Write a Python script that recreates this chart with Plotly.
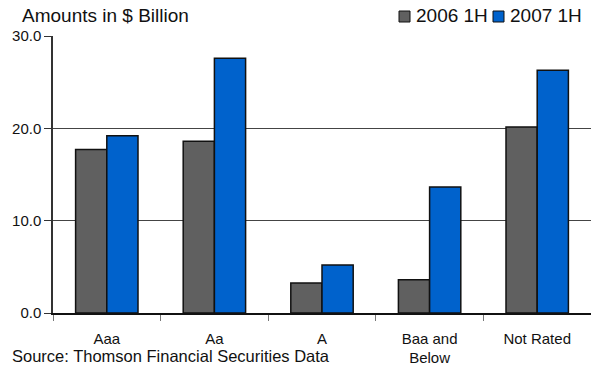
import plotly.graph_objects as go

categories = ["Aaa", "Aa", "A", "Baa and<br>Below", "Not Rated"]
values_2006 = [17.7, 18.6, 3.25, 3.6, 20.15]
values_2007 = [19.2, 27.6, 5.2, 13.65, 26.3]
series_names = ["2006 1H", "2007 1H"]
series_colors = ["#606060", "#0062CC"]
y_ticks = [0, 10, 20, 30]
y_tick_text = ["0.0", "10.0", "20.0", "30.0"]

FONT = "Liberation Sans, Arial, sans-serif"
W, H = 591, 371
L, R, T, B = 53, 0, 36, 58
PW, PH = W - L - R, H - T - B


def px(x):
    return (x - L) / PW


def py(y):
    return (H - B - y) / PH


fig = go.Figure()
for name, vals, col in zip(series_names, [values_2006, values_2007], series_colors):
    fig.add_trace(go.Bar(x=categories, y=vals, name=name,
                         marker=dict(color=col, line=dict(color="#111111", width=1.5))))

fig.update_layout(
    width=W, height=H,
    margin=dict(l=L, r=R, t=T, b=B, autoexpand=False),
    paper_bgcolor="white", plot_bgcolor="white",
    barmode="group", bargap=0.42, bargroupgap=0,
    font=dict(family=FONT, size=15, color="#111111"),
    showlegend=False,
    xaxis=dict(range=[-0.5, 4.5], showline=True, linecolor="#111111", linewidth=1.5,
               ticks="outside", tickson="boundaries", ticklen=6, tickcolor="#777777",
               ticklabelstandoff=11,
               tickfont=dict(size=15, family=FONT), showgrid=False, automargin=False),
    yaxis=dict(range=[0, 30], tickvals=y_ticks, ticktext=y_tick_text,
               showline=True, linecolor="#333333", linewidth=1.5,
               ticks="outside", ticklen=7, tickcolor="#333333",
               showgrid=True, gridcolor="#444444", gridwidth=1,
               tickfont=dict(size=15, family=FONT), zeroline=False, automargin=False),
)

# title and source
fig.add_annotation(text="Amounts in $ Billion", xref="paper", yref="paper",
                   x=px(20), y=py(15), xanchor="left", yanchor="middle",
                   showarrow=False, font=dict(size=19, family=FONT))
fig.add_annotation(text="Source: Thomson Financial Securities Data", xref="paper", yref="paper",
                   x=px(10), y=py(356), xanchor="left", yanchor="middle",
                   showarrow=False, font=dict(size=16.5, family=FONT))

# legend (drawn manually to match compact layout)
legend_x = [399, 493]
for name, col, lx in zip(series_names, series_colors, legend_x):
    fig.add_shape(type="rect", xref="paper", yref="paper",
                  x0=px(lx), x1=px(lx + 11), y0=py(22), y1=py(11),
                  fillcolor=col, line=dict(color="#111111", width=1))
    fig.add_annotation(text=name, xref="paper", yref="paper",
                       x=px(lx + 15), y=py(15), xanchor="left", yanchor="middle",
                       showarrow=False, font=dict(size=19, family=FONT))

fig.write_html("out.html", config={"displayModeBar": False},
               post_script="document.body.style.margin='0';document.body.style.overflow='hidden';")
